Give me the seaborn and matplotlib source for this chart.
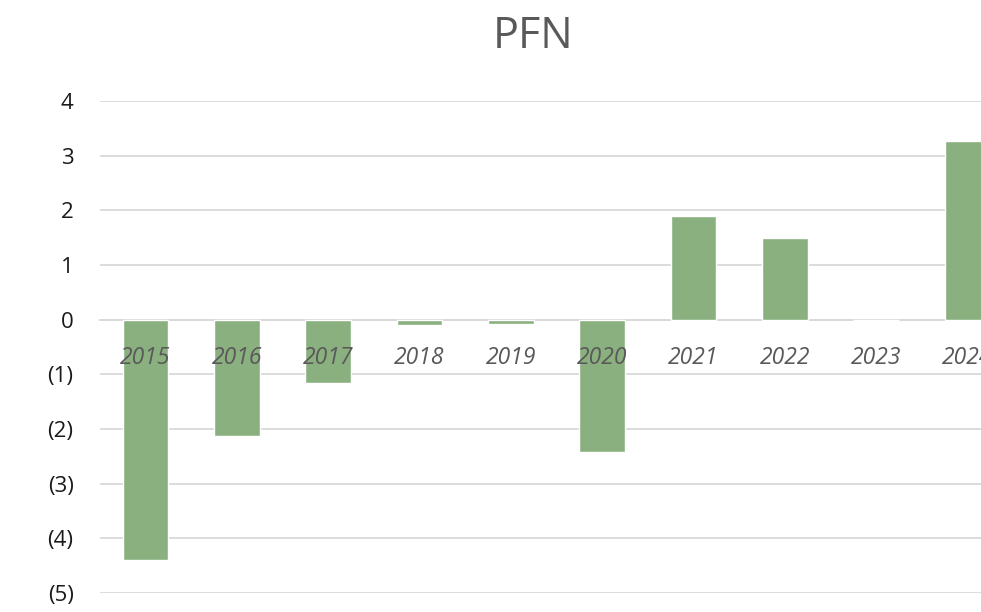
import matplotlib
matplotlib.use("Agg")
import matplotlib.pyplot as plt
import seaborn as sns
import pandas as pd

years = ["2015", "2016", "2017", "2018", "2019", "2020", "2021", "2022", "2023", "2024"]
values = [-4.40, -2.12, -1.15, -0.09, -0.08, -2.42, 1.90, 1.50, 0.0, 3.26]
yticks = [4, 3, 2, 1, 0, -1, -2, -3, -4, -5]
ytick_labels = ["4", "3", "2", "1", "0", "(1)", "(2)", "(3)", "(4)", "(5)"]
title = "PFN"

sns.set_theme(style="white")
plt.rcParams['font.family'] = ['Open Sans', 'DejaVu Sans']

df = pd.DataFrame({"year": years, "value": values})

W, H = 981, 612
fig = plt.figure(figsize=(W / 100, H / 100), dpi=100)
ax = fig.add_axes([100 / W, 19 / H, 913 / W, 492 / H])

sns.barplot(data=df, x="year", y="value", color="#8BB07F", saturation=1,
            width=0.5, ax=ax, zorder=2)

ax.set_xlim(-0.5, 9.5)
ax.set_ylim(-5, 4)
ax.set_yticks(yticks)
ax.set_yticklabels(ytick_labels)
ax.yaxis.grid(True, color="#D9D9D9", linewidth=1.3)
ax.yaxis.set_zorder(0.5)
ax.xaxis.set_zorder(5)
for s in ["top", "right", "left"]:
    ax.spines[s].set_visible(False)
ax.spines["bottom"].set_position(("data", 0))
ax.spines["bottom"].set_color("#D9D9D9")
ax.spines["bottom"].set_linewidth(1.3)
ax.spines["bottom"].set_zorder(1)
ax.tick_params(axis="y", length=0, pad=19, labelsize=16, labelcolor="#1A1A1A")
ax.tick_params(axis="x", length=0, pad=19, labelsize=16.5, labelcolor="#595959")
for lbl in ax.get_xticklabels():
    lbl.set_fontstyle("italic")
ax.set_xlabel("")
ax.set_ylabel("")

fig.text(533 / W, 1 - 37 / H, title, ha="center", va="center",
         fontsize=31, color="#595959")

fig.savefig("out.png", dpi=100)
